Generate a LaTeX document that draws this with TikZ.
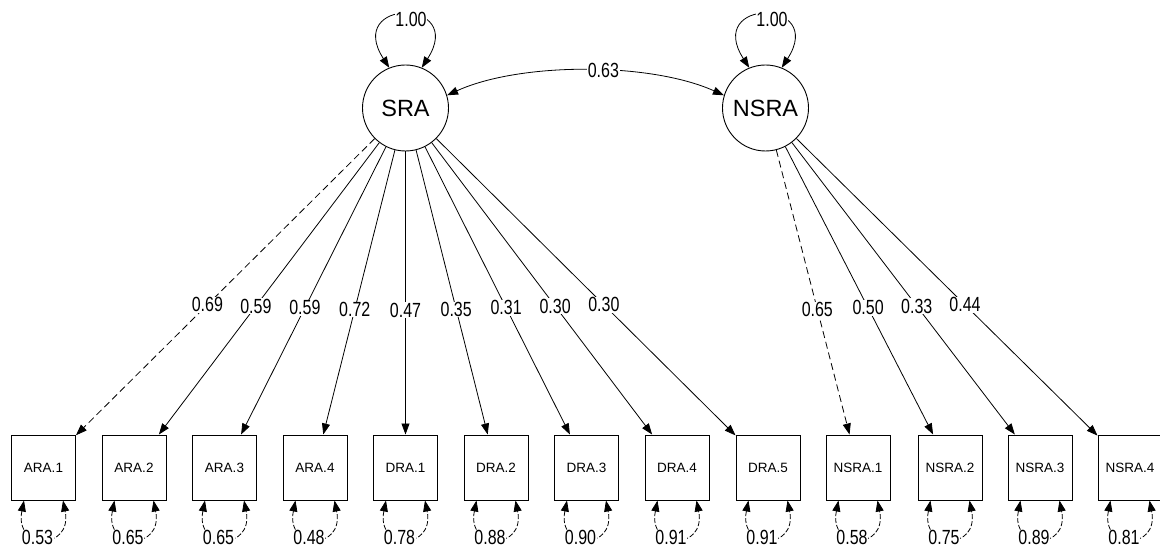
\documentclass[tikz,border=0pt]{standalone}
\usepackage{graphicx}
\usepackage{fontspec}
\setmainfont{Liberation Sans}
\usetikzlibrary{arrows.meta}
\newcommand\numlab[1]{\scalebox{1}[1.28]{#1}}
\begin{document}
\begin{tikzpicture}[x=1pt,y=-1pt,
  lat/.style={circle,draw,line width=0.9pt,minimum size=86pt,inner sep=0pt,font=\fontsize{23.5}{24}\selectfont},
  man/.style={rectangle,draw,line width=1pt,minimum width=64pt,minimum height=65pt,inner sep=0pt,font=\fontsize{13.5}{14}\selectfont},
  tip/.style={-{Triangle[length=11pt,width=8pt]}},
  dtip/.style={{Triangle[length=11pt,width=8pt]}-{Triangle[length=11pt,width=8pt]}},
  lab/.style={fill=white,inner sep=0.6pt,font=\fontsize{16}{16}\selectfont},
  load/.style={tip,line width=0.8pt},
  fixedline/.style={dash pattern=on 7pt off 4pt},
  resid/.style={dtip,line width=0.8pt,dash pattern=on 5pt off 2pt},
  var/.style={dtip,line width=0.8pt}
]
\useasboundingbox (0,0) rectangle (1160,548);
\fill[white] (0,0) rectangle (1160,548);
\node[lat] (SRA) at (405.5,108) {SRA};
\node[lat] (NSRA) at (765.5,108) {NSRA};
\foreach \nm/\x/\t in {a1/43.5/ARA.1,a2/134/ARA.2,a3/224.5/ARA.3,a4/315/ARA.4,d1/405.5/DRA.1,d2/496/DRA.2,d3/586.5/DRA.3,d4/677/DRA.4,d5/768/DRA.5,n1/858/NSRA.1,n2/950/NSRA.2,n3/1040/NSRA.3,n4/1130/NSRA.4}{
  \node[man] (\nm) at (\x,467.5) {\t};
}
% loadings
\draw[load,fixedline] (SRA) -- node[lab,pos=0.56]{\numlab{0.69}} (a1);
\draw[load] (SRA) -- node[lab,pos=0.56]{\numlab{0.59}} (a2);
\draw[load] (SRA) -- node[lab,pos=0.56]{\numlab{0.59}} (a3);
\draw[load] (SRA) -- node[lab,pos=0.56]{\numlab{0.72}} (a4);
\draw[load] (SRA) -- node[lab,pos=0.56]{\numlab{0.47}} (d1);
\draw[load] (SRA) -- node[lab,pos=0.56]{\numlab{0.35}} (d2);
\draw[load] (SRA) -- node[lab,pos=0.56]{\numlab{0.31}} (d3);
\draw[load] (SRA) -- node[lab,pos=0.56]{\numlab{0.30}} (d4);
\draw[load] (SRA) -- node[lab,pos=0.56]{\numlab{0.30}} (d5);
\draw[load,fixedline] (NSRA) -- node[lab,pos=0.56]{\numlab{0.65}} (n1);
\draw[load] (NSRA) -- node[lab,pos=0.56]{\numlab{0.50}} (n2);
\draw[load] (NSRA) -- node[lab,pos=0.56]{\numlab{0.33}} (n3);
\draw[load] (NSRA) -- node[lab,pos=0.56]{\numlab{0.44}} (n4);
% latent variances
\draw[var] (SRA.112) .. controls +(-45,-70) and +(45,-70) .. (SRA.68);
\node[lab] (vs) at (411,19) {\numlab{1.00}};
\draw[var] (NSRA.112) .. controls +(-45,-70) and +(45,-70) .. (NSRA.68);
\node[lab] (vn) at (772,19) {\numlab{1.00}};
% covariance
\draw[var] (SRA.17) .. controls (520,62) and (650,62) .. node[lab,pos=0.56]{\numlab{0.63}} (NSRA.163);
% residuals
\foreach \nm/\v in {a1/0.53,a2/0.65,a3/0.65,a4/0.48,d1/0.78,d2/0.88,d3/0.90,d4/0.91,d5/0.91,n1/0.58,n2/0.75,n3/0.89,n4/0.81}{
  \draw[resid] ([xshift=-19.5pt]\nm.south) .. controls +(-10,50) and +(10,50) .. ([xshift=19.5pt]\nm.south);
  \node[lab] at ([xshift=-6pt,yshift=-37pt]\nm.south) {\numlab{\v}};
}
\end{tikzpicture}
\end{document}
